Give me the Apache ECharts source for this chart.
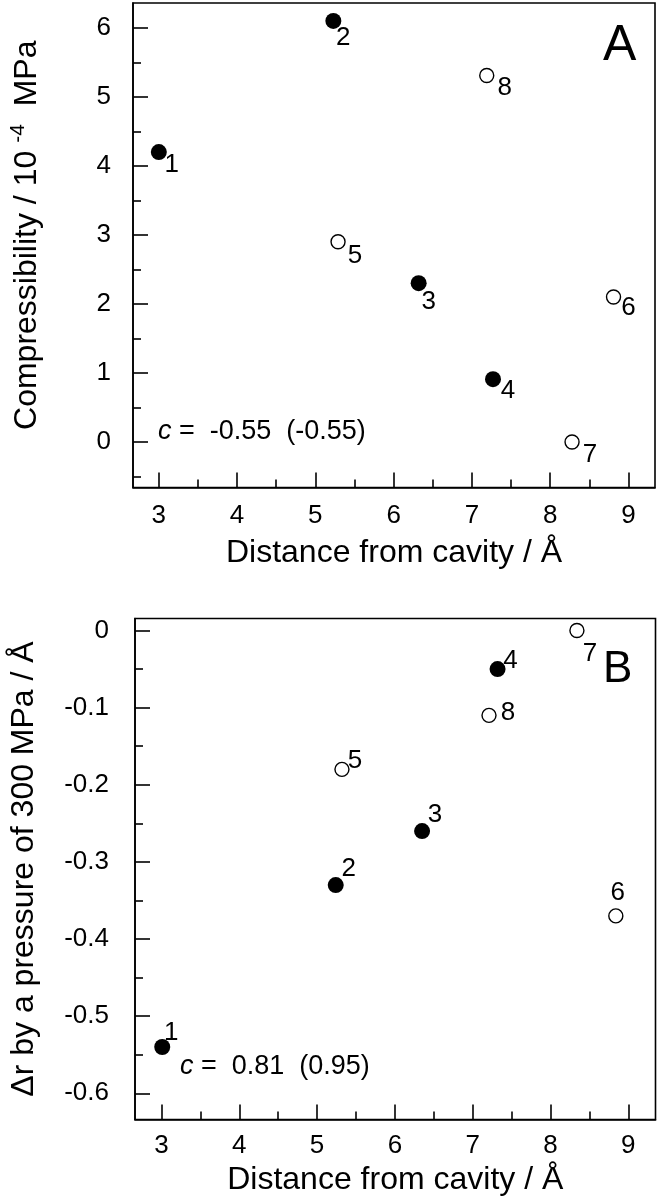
<!DOCTYPE html>
<html><head><meta charset="utf-8">
<script src="https://cdn.jsdelivr.net/npm/echarts@6/dist/echarts.min.js"></script>
<style>html,body{margin:0;padding:0;background:#fff}#c{width:660px;height:1199px}</style>
</head><body><div id="c"></div>
<script>
// ---- data ----
const pointIds = ['1', '2', '3', '4', '5', '6', '7', '8'];
const filledIds = ['1', '2', '3', '4'];
const distanceA = [3.0, 5.23, 6.32, 7.27, 5.29, 8.81, 8.28, 7.19];
const compressibility = [4.2, 6.1, 2.3, 0.91, 2.9, 2.1, 0.0, 5.31];
const distanceB = [3.01, 5.24, 6.35, 7.32, 5.32, 8.84, 8.34, 7.21];
const deltaR = [-0.54, -0.33, -0.26, -0.05, -0.18, -0.37, 0.0, -0.11];
const xTicks = [3, 4, 5, 6, 7, 8, 9];
const xMinorTicks = [3.5, 4.5, 5.5, 6.5, 7.5, 8.5];
const yTicksA = [0, 1, 2, 3, 4, 5, 6];
const yMinorTicksA = [-0.5, 0.5, 1.5, 2.5, 3.5, 4.5, 5.5];
const yTicksB = [0, -0.1, -0.2, -0.3, -0.4, -0.5, -0.6];
const yTickLabelsB = ['0', '-0.1', '-0.2', '-0.3', '-0.4', '-0.5', '-0.6'];
const yMinorTicksB = [-0.05, -0.15, -0.25, -0.35, -0.45, -0.55];
const corrA = ['-0.55', '-0.55'];
const corrB = ['0.81', '0.95'];

// ---- styles ----
const FONT = 'Liberation Sans, Arial, sans-serif';
const labelOffsetA = {'1': [13, 13], '2': [10, 17], '3': [10, 19], '4': [15, 12], '5': [17, 14], '6': [15, 11], '7': [18, 13], '8': [18, 12]};
const labelOffsetB = {'1': [9, -14], '2': [13, -16], '3': [13, -16], '4': [13, -8], '5': [13, -9], '6': [2, -23], '7': [13, 23], '8': [19, -3]};

const gridA = {left: 129, top: 3, width: 526, height: 484.5};
const gridB = {left: 131.5, top: 618.5, width: 524, height: 501};
const xRangeA = [2.67, 9.34], yRangeA = [-0.66, 6.36];
const xRangeB = [2.66, 9.35], yRangeB = [-0.634, 0.0156];

function majorAxis(pos, gridIndex, range, ticks, labels, margin, name, nameGap, extra) {
  return Object.assign({
    type: 'value', gridIndex, position: pos, min: range[0], max: range[1],
    axisLine: {show: true, onZero: false, lineStyle: {color: '#000', width: 1.6}},
    axisTick: {show: true, inside: true, length: 15, lineStyle: {color: '#000', width: 1.6}, customValues: ticks},
    axisLabel: {show: true, margin, color: '#000', fontFamily: FONT, fontSize: 26, customValues: ticks,
      formatter: v => { const i = ticks.findIndex(t => Math.abs(t - v) < 1e-9); return i >= 0 ? labels[i] : ''; }},
    splitLine: {show: false},
    name, nameLocation: 'middle', nameGap,
    nameTextStyle: {color: '#000', fontFamily: FONT, fontSize: 32}
  }, extra || {});
}
function minorAxis(pos, gridIndex, range, ticks) {
  return {
    type: 'value', gridIndex, position: pos, min: range[0], max: range[1],
    axisLine: {show: false, onZero: false},
    axisTick: {show: true, inside: true, length: 8, lineStyle: {color: '#000', width: 1.6}, customValues: ticks},
    axisLabel: {show: false}, splitLine: {show: false}
  };
}

function pts(xs, ys, filled) {
  const out = [];
  pointIds.forEach((id, i) => {
    if ((filledIds.indexOf(id) >= 0) === filled) out.push({name: id, value: [xs[i], ys[i]]});
  });
  return out;
}
function scatter(xi, yi, data, filled, offsets) {
  return {
    type: 'scatter', xAxisIndex: xi, yAxisIndex: yi, silent: true,
    symbol: 'circle', symbolSize: filled ? 16 : 14,
    itemStyle: filled ? {color: '#000', opacity: 1} : {color: '#fff', borderColor: '#000', borderWidth: 1.4, opacity: 1},
    data: data.map(d => Object.assign({}, d, {label: {offset: offsets[d.name]}})),
    label: {show: true, position: 'inside', formatter: '{b}', color: '#000', fontFamily: FONT, fontSize: 26,
      align: 'center', verticalAlign: 'middle'},
    z: 5
  };
}

const chart = echarts.init(document.getElementById('c'), null, {renderer: 'canvas'});
const richC = {
  it: {fontStyle: 'italic', fontFamily: FONT, fontSize: 27, color: '#000'},
  n: {fontFamily: FONT, fontSize: 27, color: '#000'}
};
chart.setOption({
  animation: false,
  backgroundColor: '#fff',
  grid: [
    Object.assign({show: true, borderColor: '#000', borderWidth: 1.6, backgroundColor: 'transparent'}, gridA),
    Object.assign({show: true, borderColor: '#000', borderWidth: 1.6, backgroundColor: 'transparent'}, gridB)
  ],
  title: [
    {text: 'A', left: 598, top: 16, textStyle: {fontFamily: FONT, fontSize: 50, fontWeight: 'normal', color: '#000'}},
    {text: 'B', left: 598, top: 643, textStyle: {fontFamily: FONT, fontSize: 44, fontWeight: 'normal', color: '#000'}}
  ],
  xAxis: [
    majorAxis('bottom', 0, xRangeA, xTicks, xTicks.map(String), 15, 'Distance from cavity / Å', 50),
    minorAxis('bottom', 0, xRangeA, xMinorTicks),
    majorAxis('bottom', 1, xRangeB, xTicks, xTicks.map(String), 13, 'Distance from cavity / Å', 45),
    minorAxis('bottom', 1, xRangeB, xMinorTicks)
  ],
  yAxis: [
    majorAxis('left', 0, yRangeA, yTicksA, yTicksA.map(String), 22, 'Compressibility / 10{sup|-4}  MPa', 86,
      {nameRotate: 90, nameTextStyle: {color: '#000', fontFamily: FONT, fontSize: 32, padding: [0, 0, 0, 20],
        rich: {sup: {fontFamily: FONT, fontSize: 21, color: '#000', padding: [0, 0, 18, 8]}}}}),
    minorAxis('left', 0, yRangeA, yMinorTicksA),
    majorAxis('left', 1, yRangeB, yTicksB, yTickLabelsB, 26, 'Δr by a pressure of 300 MPa / Å', 95, {nameRotate: 90}),
    minorAxis('left', 1, yRangeB, yMinorTicksB)
  ],
  graphic: [
    {type: 'text', left: 158, top: 418, style: {text: '{it|c}{n| =  ' + corrA[0] + '  (' + corrA[1] + ')}', rich: richC}},
    {type: 'text', left: 180, top: 1053, style: {text: '{it|c}{n| =  ' + corrB[0] + '  (' + corrB[1] + ')}', rich: richC}}
  ],
  series: [
    scatter(0, 0, pts(distanceA, compressibility, true), true, labelOffsetA),
    scatter(0, 0, pts(distanceA, compressibility, false), false, labelOffsetA),
    scatter(2, 2, pts(distanceB, deltaR, true), true, labelOffsetB),
    scatter(2, 2, pts(distanceB, deltaR, false), false, labelOffsetB)
  ]
});
</script></body></html>
